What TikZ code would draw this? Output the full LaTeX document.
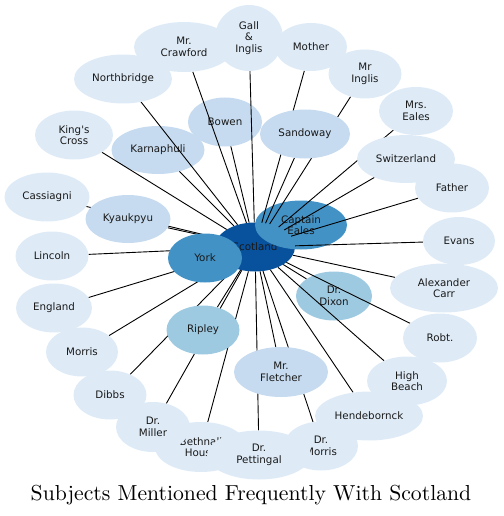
\documentclass[tikz,border=0pt]{standalone}
\usepackage{fontspec}
\newfontfamily\nodefont{DejaVu Sans}
\newfontfamily\titlefont{lmroman10-regular.otf}
\usetikzlibrary{shapes.geometric}
\definecolor{bA}{HTML}{DEEBF7}
\definecolor{bB}{HTML}{C6DBEF}
\definecolor{bC}{HTML}{9ECAE1}
\definecolor{bD}{HTML}{4292C6}
\definecolor{bE}{HTML}{08519C}
\tikzset{
  bub/.style={ellipse, draw=none, inner sep=0pt, align=center,
    font=\nodefont\fontsize{10.3}{11.5}\selectfont, text=black!90},
  lt/.style={bub, fill=bA},
  md/.style={bub, fill=bB},
  mc/.style={bub, fill=bC},
  dk/.style={bub, fill=bD},
  dd/.style={bub, fill=bE},
  edge/.style={draw=black, line width=0.9pt},
  ph/.style={ellipse, draw=none, fill=none, inner sep=0pt}
}
\begin{document}
\begin{tikzpicture}[x=1pt,y=-1pt]
\useasboundingbox (0,0) rectangle (503,516);
% bottom layer nodes (edges drawn over them)
\node[dd, minimum width=80pt, minimum height=49pt] (scot) at (255,247) {Scotland};
\node[dk, minimum width=92pt, minimum height=49pt] (eales) at (301,225) {Captain\\Eales};
\node[md, minimum width=93pt, minimum height=48pt] (karn) at (158,150) {Karnaphuli};
\node[md, minimum width=74pt, minimum height=49pt] (bowen) at (225,122) {Bowen};
\node[mc, minimum width=76pt, minimum height=49pt] (dixon) at (334,296) {Dr.\\Dixon};
% positions of the other nodes
\path
  (249,38) coordinate (p-gall)
  (184,47) coordinate (p-crawford)
  (311,47) coordinate (p-mother)
  (365,74) coordinate (p-minglis)
  (416,111) coordinate (p-meales)
  (406,159) coordinate (p-swiss)
  (452,188) coordinate (p-father)
  (459,241) coordinate (p-evans)
  (444,288) coordinate (p-carr)
  (440,338) coordinate (p-robt)
  (407,381) coordinate (p-beach)
  (369,416) coordinate (p-hende)
  (321,446) coordinate (p-dmorris)
  (259,455) coordinate (p-petting)
  (201,447) coordinate (p-bethnall)
  (153,427) coordinate (p-miller)
  (110,395) coordinate (p-dibbs)
  (82,352) coordinate (p-morris)
  (54,308) coordinate (p-england)
  (52,256) coordinate (p-lincoln)
  (47,197) coordinate (p-cass)
  (74,135) coordinate (p-kings)
  (123,79) coordinate (p-north)
  (128,219) coordinate (p-kyauk)
  (305,134) coordinate (p-sandoway)
  (281,372) coordinate (p-fletcher)
  (203,330) coordinate (p-ripley)
  (205,258) coordinate (p-york);
% invisible placeholders with the final shapes, for edge clipping
\node[ph, minimum width=68pt, minimum height=66pt] (gall) at (p-gall) {};
\node[ph, minimum width=100pt, minimum height=50pt] (crawford) at (p-crawford) {};
\node[ph, minimum width=72pt, minimum height=48pt] (mother) at (p-mother) {};
\node[ph, minimum width=73pt, minimum height=49pt] (minglis) at (p-minglis) {};
\node[ph, minimum width=74pt, minimum height=48pt] (meales) at (p-meales) {};
\node[ph, minimum width=98pt, minimum height=48pt] (swiss) at (p-swiss) {};
\node[ph, minimum width=74pt, minimum height=49pt] (father) at (p-father) {};
\node[ph, minimum width=72pt, minimum height=48pt] (evans) at (p-evans) {};
\node[ph, minimum width=108pt, minimum height=49pt] (carr) at (p-carr) {};
\node[ph, minimum width=74pt, minimum height=49pt] (robt) at (p-robt) {};
\node[ph, minimum width=80pt, minimum height=49pt] (beach) at (p-beach) {};
\node[ph, minimum width=108pt, minimum height=49pt] (hende) at (p-hende) {};
\node[ph, minimum width=74pt, minimum height=49pt] (dmorris) at (p-dmorris) {};
\node[ph, minimum width=104pt, minimum height=49pt] (petting) at (p-petting) {};
\node[ph, minimum width=92pt, minimum height=50pt] (bethnall) at (p-bethnall) {};
\node[ph, minimum width=74pt, minimum height=50pt] (miller) at (p-miller) {};
\node[ph, minimum width=73pt, minimum height=49pt] (dibbs) at (p-dibbs) {};
\node[ph, minimum width=72pt, minimum height=49pt] (morris) at (p-morris) {};
\node[ph, minimum width=76pt, minimum height=49pt] (england) at (p-england) {};
\node[ph, minimum width=73pt, minimum height=49pt] (lincoln) at (p-lincoln) {};
\node[ph, minimum width=85pt, minimum height=49pt] (cass) at (p-cass) {};
\node[ph, minimum width=78pt, minimum height=49pt] (kings) at (p-kings) {};
\node[ph, minimum width=98pt, minimum height=49pt] (north) at (p-north) {};
\node[ph, minimum width=85pt, minimum height=48pt] (kyauk) at (p-kyauk) {};
\node[ph, minimum width=90pt, minimum height=49pt] (sandoway) at (p-sandoway) {};
\node[ph, minimum width=94pt, minimum height=50pt] (fletcher) at (p-fletcher) {};
\node[ph, minimum width=73pt, minimum height=49pt] (ripley) at (p-ripley) {};
\node[ph, minimum width=74pt, minimum height=49pt] (york) at (p-york) {};
% edges
\foreach \n in {gall,crawford,mother,minglis,meales,swiss,father,evans,carr,robt,beach,hende,dmorris,petting,bethnall,miller,dibbs,morris,england,lincoln,cass,kings,north,kyauk,sandoway,fletcher,ripley,york,karn,bowen,dixon}
  \draw[edge] (\n) -- (scot);
% top layer nodes
\node[lt, minimum width=68pt, minimum height=66pt] (gallT) at (p-gall) {Gall\\\&\\Inglis};
\node[lt, minimum width=100pt, minimum height=50pt] (crawfordT) at (p-crawford) {Mr.\\Crawford};
\node[lt, minimum width=72pt, minimum height=48pt] (motherT) at (p-mother) {Mother};
\node[lt, minimum width=73pt, minimum height=49pt] (minglisT) at (p-minglis) {Mr\\Inglis};
\node[lt, minimum width=74pt, minimum height=48pt] (mealesT) at (p-meales) {Mrs.\\Eales};
\node[lt, minimum width=98pt, minimum height=48pt] (swissT) at (p-swiss) {Switzerland};
\node[lt, minimum width=74pt, minimum height=49pt] (fatherT) at (p-father) {Father};
\node[lt, minimum width=72pt, minimum height=48pt] (evansT) at (p-evans) {Evans};
\node[lt, minimum width=108pt, minimum height=49pt] (carrT) at (p-carr) {Alexander\\Carr};
\node[lt, minimum width=74pt, minimum height=49pt] (robtT) at (p-robt) {Robt.};
\node[lt, minimum width=80pt, minimum height=49pt] (beachT) at (p-beach) {High\\Beach};
\node[lt, minimum width=108pt, minimum height=49pt] (hendeT) at (p-hende) {Hendebornck};
\node[lt, minimum width=74pt, minimum height=49pt] (dmorrisT) at (p-dmorris) {Dr.\\Morris};
\node[lt, minimum width=92pt, minimum height=50pt] (bethnallT) at (p-bethnall) {Bethnall\\House};
\node[lt, minimum width=104pt, minimum height=49pt] (pettingT) at (p-petting) {Dr.\\Pettingal};
\node[lt, minimum width=74pt, minimum height=50pt] (millerT) at (p-miller) {Dr.\\Miller};
\node[lt, minimum width=73pt, minimum height=49pt] (dibbsT) at (p-dibbs) {Dibbs};
\node[lt, minimum width=72pt, minimum height=49pt] (morrisT) at (p-morris) {Morris};
\node[lt, minimum width=76pt, minimum height=49pt] (englandT) at (p-england) {England};
\node[lt, minimum width=73pt, minimum height=49pt] (lincolnT) at (p-lincoln) {Lincoln};
\node[lt, minimum width=85pt, minimum height=49pt] (cassT) at (p-cass) {Cassiagni};
\node[lt, minimum width=78pt, minimum height=49pt] (kingsT) at (p-kings) {King's\\Cross};
\node[lt, minimum width=98pt, minimum height=49pt] (northT) at (p-north) {Northbridge};
\node[md, minimum width=85pt, minimum height=48pt] (kyaukT) at (p-kyauk) {Kyaukpyu};
\node[md, minimum width=90pt, minimum height=49pt] (sandowayT) at (p-sandoway) {Sandoway};
\node[md, minimum width=94pt, minimum height=50pt] (fletcherT) at (p-fletcher) {Mr.\\Fletcher};
\node[mc, minimum width=73pt, minimum height=49pt] (ripleyT) at (p-ripley) {Ripley};
\node[dk, minimum width=74pt, minimum height=49pt] (yorkT) at (p-york) {York};
% title
\node[font=\titlefont\fontsize{21.7}{25}\selectfont] (title) at (251,495) {Subjects Mentioned Frequently With Scotland};
\end{tikzpicture}
\end{document}
